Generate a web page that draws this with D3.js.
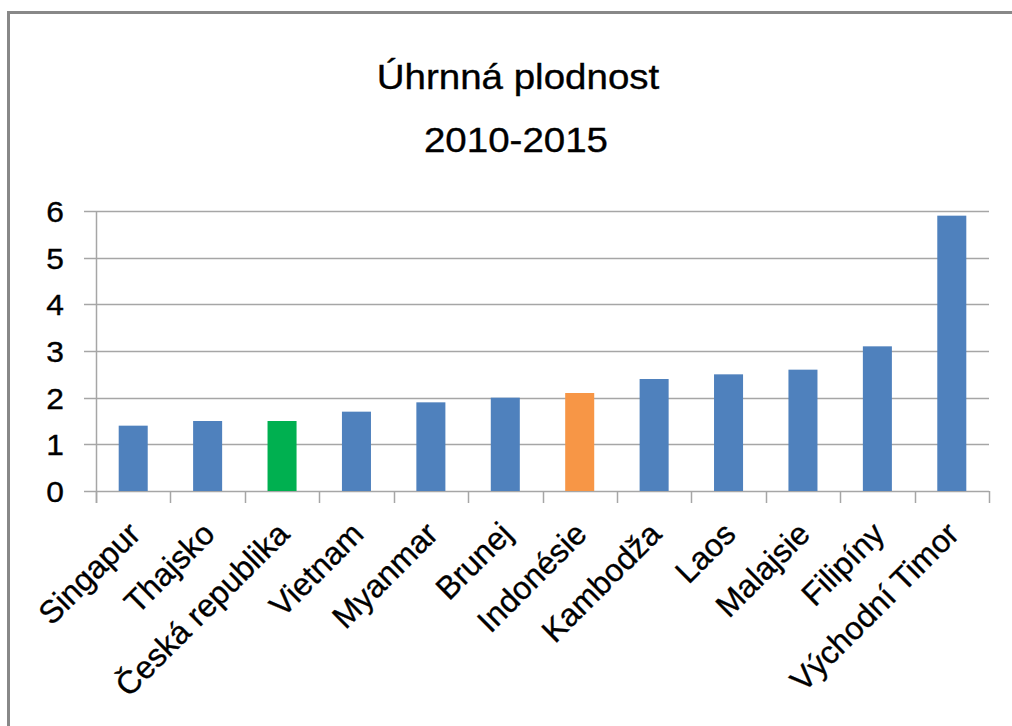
<!DOCTYPE html>
<html>
<head>
<meta charset="utf-8">
<script src="https://cdn.jsdelivr.net/npm/d3@7"></script>
<style>
  html, body { margin: 0; padding: 0; background: #fff; }
  text { font-family: "Liberation Sans", Arial, sans-serif; fill: #000; stroke: #000; stroke-width: 0.35px; }
</style>
</head>
<body>
<div id="chart"></div>
<script>
// data
var countries = ['Singapur', 'Thajsko', 'Česká republika', 'Vietnam', 'Myanmar', 'Brunej',
  'Indonésie', 'Kambodža', 'Laos', 'Malajsie', 'Filipíny', 'Východní Timor'];
var fertility = [1.4, 1.5, 1.5, 1.7, 1.9, 2.0, 2.1, 2.4, 2.5, 2.6, 3.1, 5.9];
var yTicks = [0, 1, 2, 3, 4, 5, 6];
var titleLines = ['Úhrnná plodnost', '2010-2015'];

var blue = '#4f81bd', green = '#00b050', orange = '#f79646';
var gridColor = '#a6a6a6';
// highlight Czech republic and Indonesia
var barColor = function (name) {
  if (name === 'Česká republika') { return green; }
  if (name === 'Indonésie') { return orange; }
  return blue;
};

var W = 1012, H = 726;
var plotL = 96, plotR = 989, plotT = 211, plotB = 491;
var stretch = 1.1; // text in the picture is a little wider than tall

var svg = d3.select('#chart').append('svg')
  .attr('width', W)
  .attr('height', H);

// outer frame (only top and left edges visible)
svg.append('rect')
  .attr('x', 8.5)
  .attr('y', 12.5)
  .attr('width', 1200)
  .attr('height', 900)
  .style('fill', 'none')
  .style('stroke', '#888')
  .style('stroke-width', 3);

var x = d3.scaleBand()
  .domain(countries)
  .range([plotL, plotR])
  .paddingInner(0.61)
  .paddingOuter(0.305);

var y = d3.scaleLinear()
  .domain([0, 6])
  .range([plotB, plotT]);

// titles
titleLines.forEach(function (t, i) {
  svg.append('text')
    .attr('transform', 'translate(' + (i === 0 ? 518 : 516) + ',' + (i === 0 ? 89 : 152) + ') scale(' + stretch + ',1)')
    .attr('text-anchor', 'middle')
    .attr('font-size', 35)
    .text(t);
});

// gridlines
svg.append('g')
  .selectAll('line')
  .data(yTicks)
  .join('line')
  .attr('x1', plotL - 12)
  .attr('x2', plotR)
  .attr('y1', function (d) { return Math.round(y(d)) + 0.5; })
  .attr('y2', function (d) { return Math.round(y(d)) + 0.5; })
  .style('stroke', gridColor)
  .style('stroke-width', 1.5);

// y labels
svg.append('g')
  .selectAll('text')
  .data(yTicks)
  .join('text')
  .attr('transform', function (d) { return 'translate(64,' + (y(d) + 11) + ') scale(1.06,1)'; })
  .attr('text-anchor', 'end')
  .attr('font-size', 30)
  .text(function (d) { return d; });

// y axis line
svg.append('line')
  .attr('x1', plotL + 0.5).attr('x2', plotL + 0.5)
  .attr('y1', plotT).attr('y2', plotB + 12)
  .style('stroke', gridColor)
  .style('stroke-width', 1.5);

// x tick marks at category boundaries
var step = x.step();
var bounds = d3.range(countries.length + 1).map(function (i) { return plotL + i * step; });
svg.append('g')
  .selectAll('line')
  .data(bounds)
  .join('line')
  .attr('x1', function (d) { return Math.round(d) + 0.5; })
  .attr('x2', function (d) { return Math.round(d) + 0.5; })
  .attr('y1', plotB)
  .attr('y2', plotB + 12)
  .style('stroke', gridColor)
  .style('stroke-width', 1.5);

// bars
svg.append('g')
  .selectAll('rect')
  .data(countries)
  .join('rect')
  .attr('x', function (d) { return x(d); })
  .attr('y', function (d, i) { return y(fertility[i]); })
  .attr('width', x.bandwidth())
  .attr('height', function (d, i) { return y(0) - y(fertility[i]); })
  .style('fill', barColor);

// x labels, rotated
svg.append('g')
  .selectAll('text')
  .data(countries)
  .join('text')
  .attr('transform', function (d) {
    var cx = x(d) + x.bandwidth() / 2;
    return 'translate(' + (cx + 9) + ',' + 536 + ') rotate(-45)';
  })
  .attr('text-anchor', 'end')
  .attr('font-size', 32)
  .text(function (d) { return d; });
</script>
</body>
</html>
